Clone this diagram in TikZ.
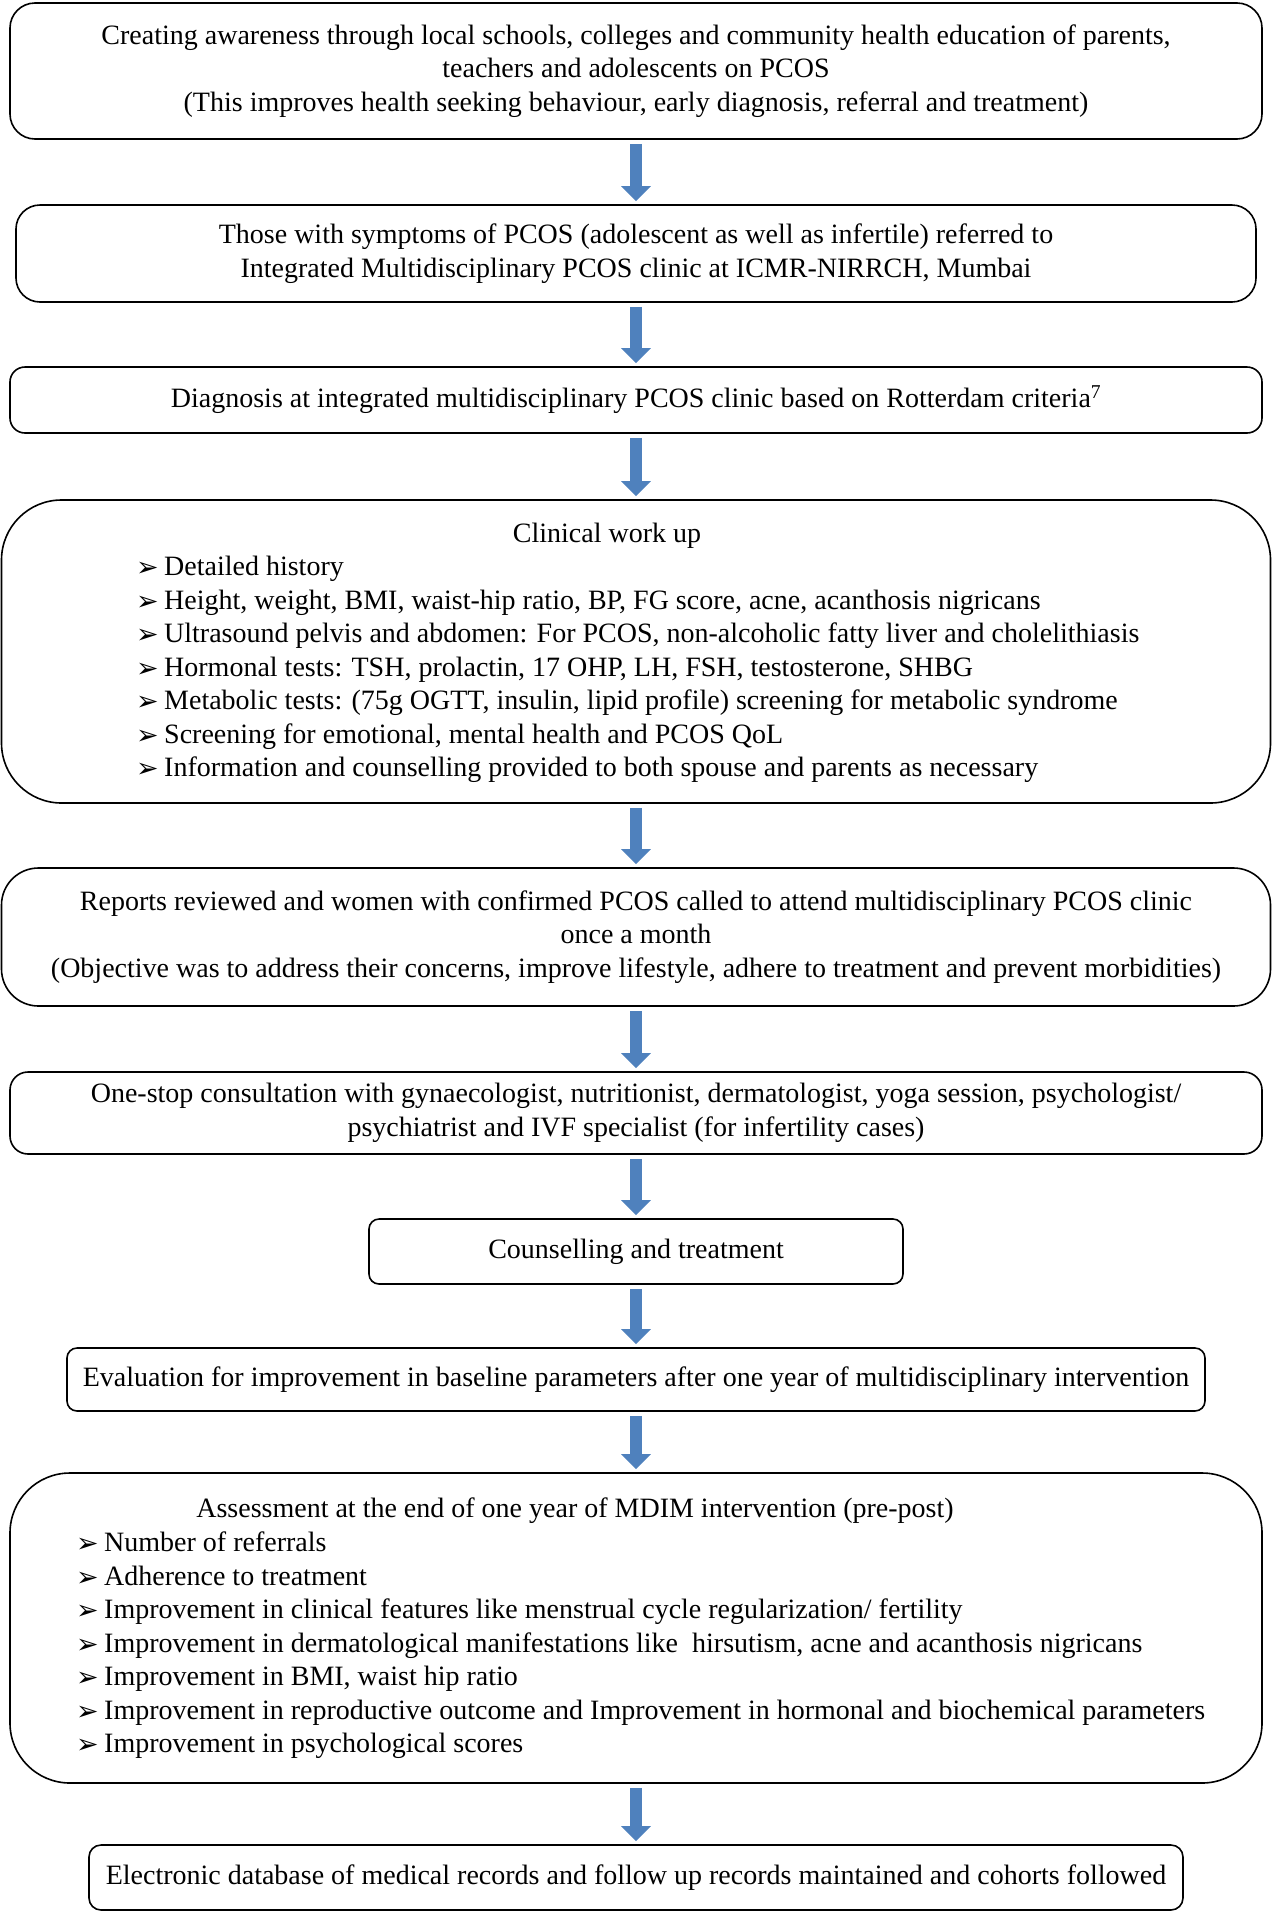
\documentclass[tikz,border=0pt]{standalone}
\usepackage{fontspec}
\setmainfont{Liberation Serif}
\newfontfamily\dv{DejaVu Sans}
\usetikzlibrary{arrows.meta}
\definecolor{arrowblue}{HTML}{4F81BD}
\newcommand{\blt}{\makebox[28pt][l]{\raisebox{-1pt}{\dv\fontsize{27}{27}\selectfont ➢}}}
\tikzset{
  box/.style={draw, line width=1.6pt, rounded corners=#1, inner sep=0pt, align=center,
              font=\fontsize{28}{33.5}\selectfont},
  box/.default=10pt,
  txt/.style={inner sep=0pt, font=\fontsize{28}{33.5}\selectfont},
  flow/.style={line width=12pt, draw=arrowblue, -{Triangle[width=29pt,length=15pt]},
               shorten <=4pt, shorten >=3pt}
}
\begin{document}
\begin{tikzpicture}[x=1pt,y=-1pt]
\useasboundingbox (0,0) rectangle (1273,1912);
\node[box=25pt, minimum width=1252pt, minimum height=136pt] (b1) at (636,71)
  {Creating awareness through local schools, colleges and community health education of parents,\\
   teachers and adolescents on PCOS\\
   (This improves health seeking behaviour, early diagnosis, referral and treatment)};
\node[box=24pt, minimum width=1240pt, minimum height=97pt] (b2) at (636,253.5)
  {Those with symptoms of PCOS (adolescent as well as infertile) referred to\\
   Integrated Multidisciplinary PCOS clinic at ICMR-NIRRCH, Mumbai};
\node[box=15pt, minimum width=1252pt, minimum height=66pt] (b3) at (636,400)
  {Diagnosis at integrated multidisciplinary PCOS clinic based on Rotterdam criteria\textsuperscript{7}};
\node[box=60pt, minimum width=1269pt, minimum height=303pt] (b4) at (636,651.5) {};
\node[txt] (b4t) at (607,536) {Clinical work up};
\node[txt, align=left, anchor=west] (b4l) at (136,669.5)
  {\blt Detailed history\\
   \blt Height, weight, BMI, waist-hip ratio, BP, FG score, acne, acanthosis nigricans\\
   \blt Ultrasound pelvis and abdomen: For PCOS, non-alcoholic fatty liver and cholelithiasis\\
   \blt Hormonal tests: TSH, prolactin, 17 OHP, LH, FSH, testosterone, SHBG\\
   \blt Metabolic tests: (75g OGTT, insulin, lipid profile) screening for metabolic syndrome\\
   \blt Screening for emotional, mental health and PCOS QoL\\
   \blt Information and counselling provided to both spouse and parents as necessary};
\node[box=37pt, minimum width=1269pt, minimum height=138pt] (b5) at (636,937)
  {Reports reviewed and women with confirmed PCOS called to attend multidisciplinary PCOS clinic\\
   once a month\\
   (Objective was to address their concerns, improve lifestyle, adhere to treatment and prevent morbidities)};
\node[box=18pt, minimum width=1252pt, minimum height=82pt] (b6) at (636,1113)
  {One-stop consultation with gynaecologist, nutritionist, dermatologist, yoga session, psychologist/\\
   psychiatrist and IVF specialist (for infertility cases)};
\node[box=10pt, minimum width=534pt, minimum height=65pt] (b7) at (636,1251.5)
  {Counselling and treatment};
\node[box=10pt, minimum width=1138pt, minimum height=63pt] (b8) at (636,1379.5)
  {Evaluation for improvement in baseline parameters after one year of multidisciplinary intervention};
\node[box=60pt, minimum width=1252pt, minimum height=310pt] (b9) at (636,1628) {};
\node[txt] (b9t) at (575,1511) {Assessment at the end of one year of MDIM intervention (pre-post)};
\node[txt, align=left, anchor=west] (b9l) at (76,1645.5)
  {\blt Number of referrals\\
   \blt Adherence to treatment\\
   \blt Improvement in clinical features like menstrual cycle regularization/ fertility\\
   \blt Improvement in dermatological manifestations like \ hirsutism, acne and acanthosis nigricans\\
   \blt Improvement in BMI, waist hip ratio\\
   \blt Improvement in reproductive outcome and Improvement in hormonal and biochemical parameters\\
   \blt Improvement in psychological scores};
\node[box=12pt, minimum width=1094pt, minimum height=65pt] (b10) at (636,1877.5)
  {Electronic database of medical records and follow up records maintained and cohorts followed};
\draw[flow] (b1) -- (b2);
\draw[flow] (b2) -- (b3);
\draw[flow] (b3) -- (b4);
\draw[flow] (b4) -- (b5);
\draw[flow] (b5) -- (b6);
\draw[flow] (b6) -- (b7);
\draw[flow] (b7) -- (b8);
\draw[flow] (b8) -- (b9);
\draw[flow] (b9) -- (b10);
\end{tikzpicture}
\end{document}
